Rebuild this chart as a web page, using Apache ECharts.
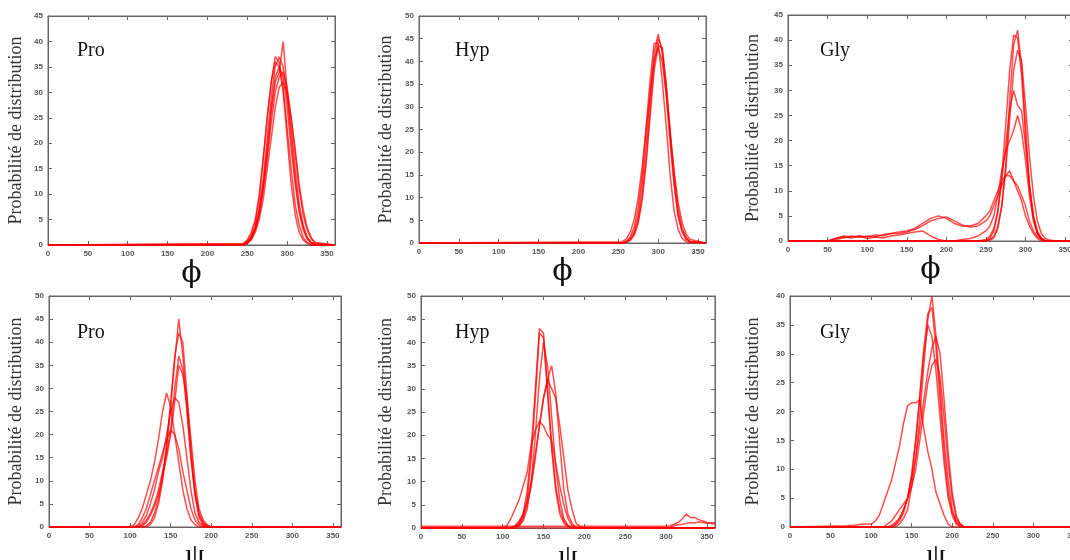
<!DOCTYPE html>
<html><head><meta charset="utf-8">
<script src="https://cdn.jsdelivr.net/npm/echarts@6/dist/echarts.min.js"></script>
<style>html,body{margin:0;padding:0;background:#fff}#c{width:1070px;height:560px}</style>
</head><body><div id="c"></div><script>
// ---------- DATA ----------
// Panel A : Pro, phi
const phiProX = [0,245,250,255,260,265,270,275,280,285,290,295,300,305,310,315,320,325,330,335,360];
const phiPro1 = [0,0.1,0.5,1.5,3.5,7,13,21,29,35,37,35,29,21,13,7,3.5,1.5,0.5,0.1,0];
const phiPro2 = [0,0.2,0.8,2,4.5,9,17,25,32,36,35,30,21,12,6,2.5,1,0.3,0,0,0];
const phiPro3 = [0,0,0.4,1.2,3,6,11,18,26,32,34,40,30,23,15,8,4,1.5,0.5,0.1,0];
const phiPro4 = [0,0.1,0.4,1.2,3,6,11,17,24,30,33,34,31,25,18,11,6,3,1.2,0.4,0];
const phiPro5 = [0,0.3,1,2.5,5,10,17,25,32,37,36,31,23,15,8,4,1.5,0.5,0.1,0,0];
const phiPro6 = [0,0,0.3,1,2.5,5,9,15,21,27,31,32,30,25,19,12,7,3.5,1.5,0.5,0];
const phiPro7 = [0,0.1,0.5,1.5,3.5,7,12,19,27,33,35,33,27,19,12,6.5,3,1.2,0.4,0.1,0];

// Panel B : Hyp, phi
const phiHypX = [0,255,260,265,270,275,280,285,290,295,300,305,310,315,320,325,330,335,340,360];
const phiHyp1 = [0,0,0.3,0.9,2.6,6,13,22,33,42,46,42,33,22,13,6,2.6,0.9,0.3,0];
const phiHyp2 = [0,0.1,0.4,1.3,3.6,8,15,26,36,44,44,36,26,15,7,3,1,0.3,0,0];
const phiHyp3 = [0,0,0.1,0.6,1.7,4.3,9.5,17.5,28,38,43.5,43,35,25,15,7.5,3.3,1.3,0.4,0];
const phiHyp4 = [0,0.3,0.9,2.4,5.2,10,17,25,33,40,43,40,33,24,16,9,4.5,2,0.8,0];
const phiHyp5 = [0,0,0.2,0.7,2,5,10.5,19,30,40,45,43,35,24,13,6,2.5,0.8,0.2,0];

// Panel C : Gly, phi
const phiGlyX = [0,50,60,70,80,90,100,110,120,130,140,150,160,170,180,190,200,210,220,230,240,250,255,260,265,270,275,280,285,290,295,300,305,310,315,320,325,330,340,360];
const phiGly1 = [0,0,0,0,0,0,0,0,0,0,0,0,0,0,0,0,0,0,0,0,0,0,0.6,2,5.7,12.8,23,34,41,40.5,33,21,11,4.7,1.6,0.5,0.1,0,0,0];
const phiGly2 = [0,0,0,0,0,0,0,0,0,0,0,0,0,0,0,0,0,0,0,0,0,0,0.2,0.6,2.4,6.9,15,28,39,42,35,23,11,4.6,1.4,0.4,0,0,0,0];
const phiGly3 = [0,0,0,0,0,0,0,0,0,0,0,0,0,0,0,0,0,0,0,0,0,0.3,1,2.5,6,12,19,26,30,27,26,19,11,5,2,0.5,0,0,0,0];
const phiGly4 = [0,0,0,0,0,0,0,0,0,0,0,0,0,0,0,0,0,0,0,0,0,0,0.3,1,3,7,14,24,34,38,36,27,17,9,4,1.5,0.5,0.2,0,0];
const phiGly5 = [0,0,0.5,0.8,0.6,1,0.8,1.2,1,1.5,1.8,2,2.5,3.5,4.5,5,4.5,3.5,3,3,3.5,5,6,8,10,12,13,14,12,10,8,5,3,1.5,0.5,0,0,0,0,0];
const phiGly6 = [0,0,0.3,0.6,1,0.7,1,0.8,1.3,1.5,1.5,1.8,2.3,3,4,4.5,4.8,4,3.2,2.8,3,4,5,7,9,11,13,13,12,11,9,7,4,2,0.8,0.3,0,0,0,0];
const phiGly7 = [0,0,0.5,1,0.8,1,0.5,0.8,0.6,1,1.2,1.5,1.8,2,1,0.3,0,0,0.3,0.5,1,2,3,5,9,14,18,20,22,25,22,16,9,4,1.5,0.5,0,0,0,0];

// Panel D : Pro, psi
const psiProX = [0,100,105,110,115,120,125,130,135,140,145,150,155,160,165,170,175,180,185,190,195,200,360];
const psiPro1 = [0,0,0,0,0,0,0.5,2,5,10,17,26,36,45,37,26,15,7,2,0.5,0,0,0];
const psiPro2 = [0,0,0,0,0,0.3,1,3,6,11,18,27,37,42,40,29,17,8,3,1,0.3,0,0];
const psiPro3 = [0,0,0,0,0.5,1.5,3,5,8,12,16,21,30,37,34,25,15,7,2.5,0.8,0,0,0];
const psiPro4 = [0,0,0,0,0.3,1,2.5,4.5,7,11,15,20,27,35,33,28,19,10,4,1.5,0.5,0,0];
const psiPro5 = [0,0,0.5,2,4,7,10,14,19,25,29,26,20,14,8,4,1.5,0.5,0,0,0,0,0];
const psiPro6 = [0,0,0,0.5,2,4,7,10,13,16,19,21,20,17,12,8,4,1.5,0.5,0,0,0,0];
const psiPro7 = [0,0,0,0.3,1,2.5,5,8,12,15,20,25,28,27,22,15,8,3,1,0.3,0,0,0];

// Panel E : Hyp, psi
const psiHypX = [0,100,105,110,115,120,125,130,135,140,145,150,155,160,165,170,175,180,185,190,195,200,300,305,310,315,320,325,330,335,340,345,350,355,360];
const psiHyp1 = [0,0,0,0,0,0.5,2,6,15,28,42,41,29,17,8,3,1,0.3,0,0,0,0,0,0,0,0,0,0,0,0,0,0,0,0,0];
const psiHyp2 = [0,0,0,0,0.3,1,3,8,17,30,43,42,30,18,9,4,1.5,0.5,0,0,0,0,0,0,0,0,0,0,0,0,0,0,0,0,0];
const psiHyp3 = [0,0,0,0,0,0.5,1.5,4,10,20,32,40,35,24,13,6,2,0.5,0,0,0,0,0,0,0,0,0,0,0,0,0,0,0,0,0];
const psiHyp4 = [0,0,0,0,0.5,1.5,3,6,10,16,22,28,32,35,29,18,8,3,1,0,0,0,0,0,0,0,0,0,0,0,0,0,0,0,0];
const psiHyp5 = [0,0,0,0,0.3,1,2.5,5,9,15,22,28,32,30,28,22,15,8,4,1,0.3,0,0,0,0,0,0,0,0,0,0,0,0,0,0];
const psiHyp6 = [0,0,0.5,2,4,6,9,12,18,21,23,22,20,19,14,9,5,2,0.5,0,0,0,0,0,0,0,0,0,0,0,0,0,0,0,0];
const psiHyp7 = [0.4,0.4,0.4,0.4,0.4,0.4,0.4,0.4,0.4,0.4,0.4,0.4,0.4,0.4,0.4,0.4,0.4,0.4,0.4,0.4,0.4,0.4,0.4,0.5,0.8,1.2,2,3,2.2,2.3,1.8,1.5,1.2,1,0.8];
const psiHyp8 = [0,0,0,0,0,0,0,0,0,0,0,0,0,0,0,0,0,0,0,0,0,0,0,0.2,0.5,0.7,0.8,1,1.2,1.1,1.3,1.2,1,1.1,1.2];

// Panel F : Gly, psi
const psiGlyX = [0,70,80,90,100,105,110,115,120,125,130,135,140,145,150,155,160,165,170,175,180,185,190,195,200,205,210,215,220,360];
const psiGly1 = [0,0,0,0,0,0,0,0,0,0,0,0.5,1.5,3,7,12,19,28,36,40,33,24,15,8,3,1,0.3,0,0,0];
const psiGly2 = [0,0,0,0,0,0,0,0,0,0,0.3,1,2.5,5,9,15,23,31,37,38,31,22,13,6,2.5,0.8,0.2,0,0,0];
const psiGly3 = [0,0,0,0,0,0,0,0,0,0.3,0.8,1.5,3,5,8,12,17,22,27,31,33,30,22,13,6,2,0.5,0,0,0];
const psiGly4 = [0,0,0,0,0,0,0,0,0.5,1,2,3,4,5,7,10,15,20,25,28,29,26,19,11,5,1.5,0.5,0,0,0];
const psiGly5 = [0,0.2,0.3,0.5,0.5,1,2,4,6,8,11,14,18,21,21.5,21.5,22,17,13,10,6,4,2,0.5,0,0,0,0,0,0];
const psiGly6 = [0,0,0,0,0,0,0,0,0,0,0.5,1.5,3,5,9,15,22,30,35,33,27,19,11,5,2,0.5,0,0,0,0];

const yTitle = 'Probabilité de distribution';

// ---------- LAYOUT ----------
const panels = [
  {grid:{left:48, top:16, width:287, height:229}, ymax:45, label:'Pro', lx:77, ly:41, xname:'ϕ', xfont:'DejaVu Serif', gap:23,
   xs:phiProX, ys:[phiPro1,phiPro2,phiPro3,phiPro4,phiPro5,phiPro6,phiPro7]},
  {grid:{left:419, top:16, width:287, height:227}, ymax:50, label:'Hyp', lx:455, ly:41, xname:'ϕ', xfont:'DejaVu Serif', gap:24,
   xs:phiHypX, ys:[phiHyp1,phiHyp2,phiHyp3,phiHyp4,phiHyp5]},
  {grid:{left:788, top:15, width:285, height:226}, ymax:45, label:'Gly', lx:820, ly:41, xname:'ϕ', xfont:'DejaVu Serif', gap:26,
   xs:phiGlyX, ys:[phiGly1,phiGly2,phiGly3,phiGly4,phiGly5,phiGly6,phiGly7]},
  {grid:{left:49, top:296, width:292, height:231}, ymax:50, label:'Pro', lx:77, ly:323, xname:'ψ', xfont:'Liberation Serif', gap:24,
   xs:psiProX, ys:[psiPro1,psiPro2,psiPro3,psiPro4,psiPro5,psiPro6,psiPro7]},
  {grid:{left:421, top:296, width:294, height:232}, ymax:50, label:'Hyp', lx:455, ly:323, xname:'ψ', xfont:'Liberation Serif', gap:26,
   xs:psiHypX, ys:[psiHyp1,psiHyp2,psiHyp3,psiHyp4,psiHyp5,psiHyp6,psiHyp7,psiHyp8]},
  {grid:{left:790, top:296, width:292, height:231}, ymax:40, label:'Gly', lx:820, ly:323, xname:'ψ', xfont:'Liberation Serif', gap:28,
   xs:psiGlyX, ys:[psiGly1,psiGly2,psiGly3,psiGly4,psiGly5,psiGly6]}
];

const AX = '#666666';
const grids = [], xAxes = [], yAxes = [], series = [], titles = [];
panels.forEach((p, i) => {
  grids.push(Object.assign({show:true, borderColor:AX, borderWidth:1, backgroundColor:'#fff', outerBoundsMode:'none', containLabel:false}, p.grid));
  const tick = {show:true, inside:true, length:4, lineStyle:{color:AX, width:1}};
  const line = {show:true, onZero:false, lineStyle:{color:AX, width:1}};
  const lbl = {fontSize:8, color:'#555', fontWeight:'bold', fontFamily:'Liberation Sans', margin:5};
  xAxes.push({type:'value', gridIndex:i, position:'bottom', min:0, max:360, interval:50,
    axisLine:line, axisTick:tick, splitLine:{show:false},
    axisLabel:Object.assign({formatter: v => (v === 360 ? '' : String(v))}, lbl),
    name:p.xname, nameLocation:'middle', nameGap:2,
    nameTextStyle:{fontFamily:p.xfont, fontSize:30, color:'#111', verticalAlign:'top'}});
  xAxes.push({type:'value', gridIndex:i, position:'top', min:0, max:360, interval:50,
    axisLine:line, axisTick:tick, splitLine:{show:false}, axisLabel:{show:false}});
  yAxes.push({type:'value', gridIndex:i, position:'left', min:0, max:p.ymax, interval:5,
    axisLine:line, axisTick:tick, splitLine:{show:false}, axisLabel:lbl,
    name:yTitle, nameLocation:'middle', nameGap:p.gap,
    nameTextStyle:{fontFamily:'Liberation Serif', fontSize:18, color:'#333'}});
  yAxes.push({type:'value', gridIndex:i, position:'right', min:0, max:p.ymax, interval:5,
    axisLine:line, axisTick:tick, splitLine:{show:false}, axisLabel:{show:false}});
  p.ys.forEach(ys => {
    series.push({type:'line', xAxisIndex:2*i, yAxisIndex:2*i, symbol:'none', showSymbol:false,
      data: p.xs.map((x, k) => [x, ys[k]]),
      lineStyle:{color:'#ff0000', width:1.5, opacity:0.7}, silent:true, clip:true});
  });
  titles.push({text:p.label, left:p.lx, top:p.ly, padding:0,
    textStyle:{fontFamily:'Liberation Serif', fontSize:20, fontWeight:'normal', color:'#111'}});
});

const chart = echarts.init(document.getElementById('c'), null, {renderer:'canvas'});
chart.setOption({animation:false, backgroundColor:'#fff', title:titles, grid:grids,
  xAxis:xAxes, yAxis:yAxes, series:series});
</script></body></html>
